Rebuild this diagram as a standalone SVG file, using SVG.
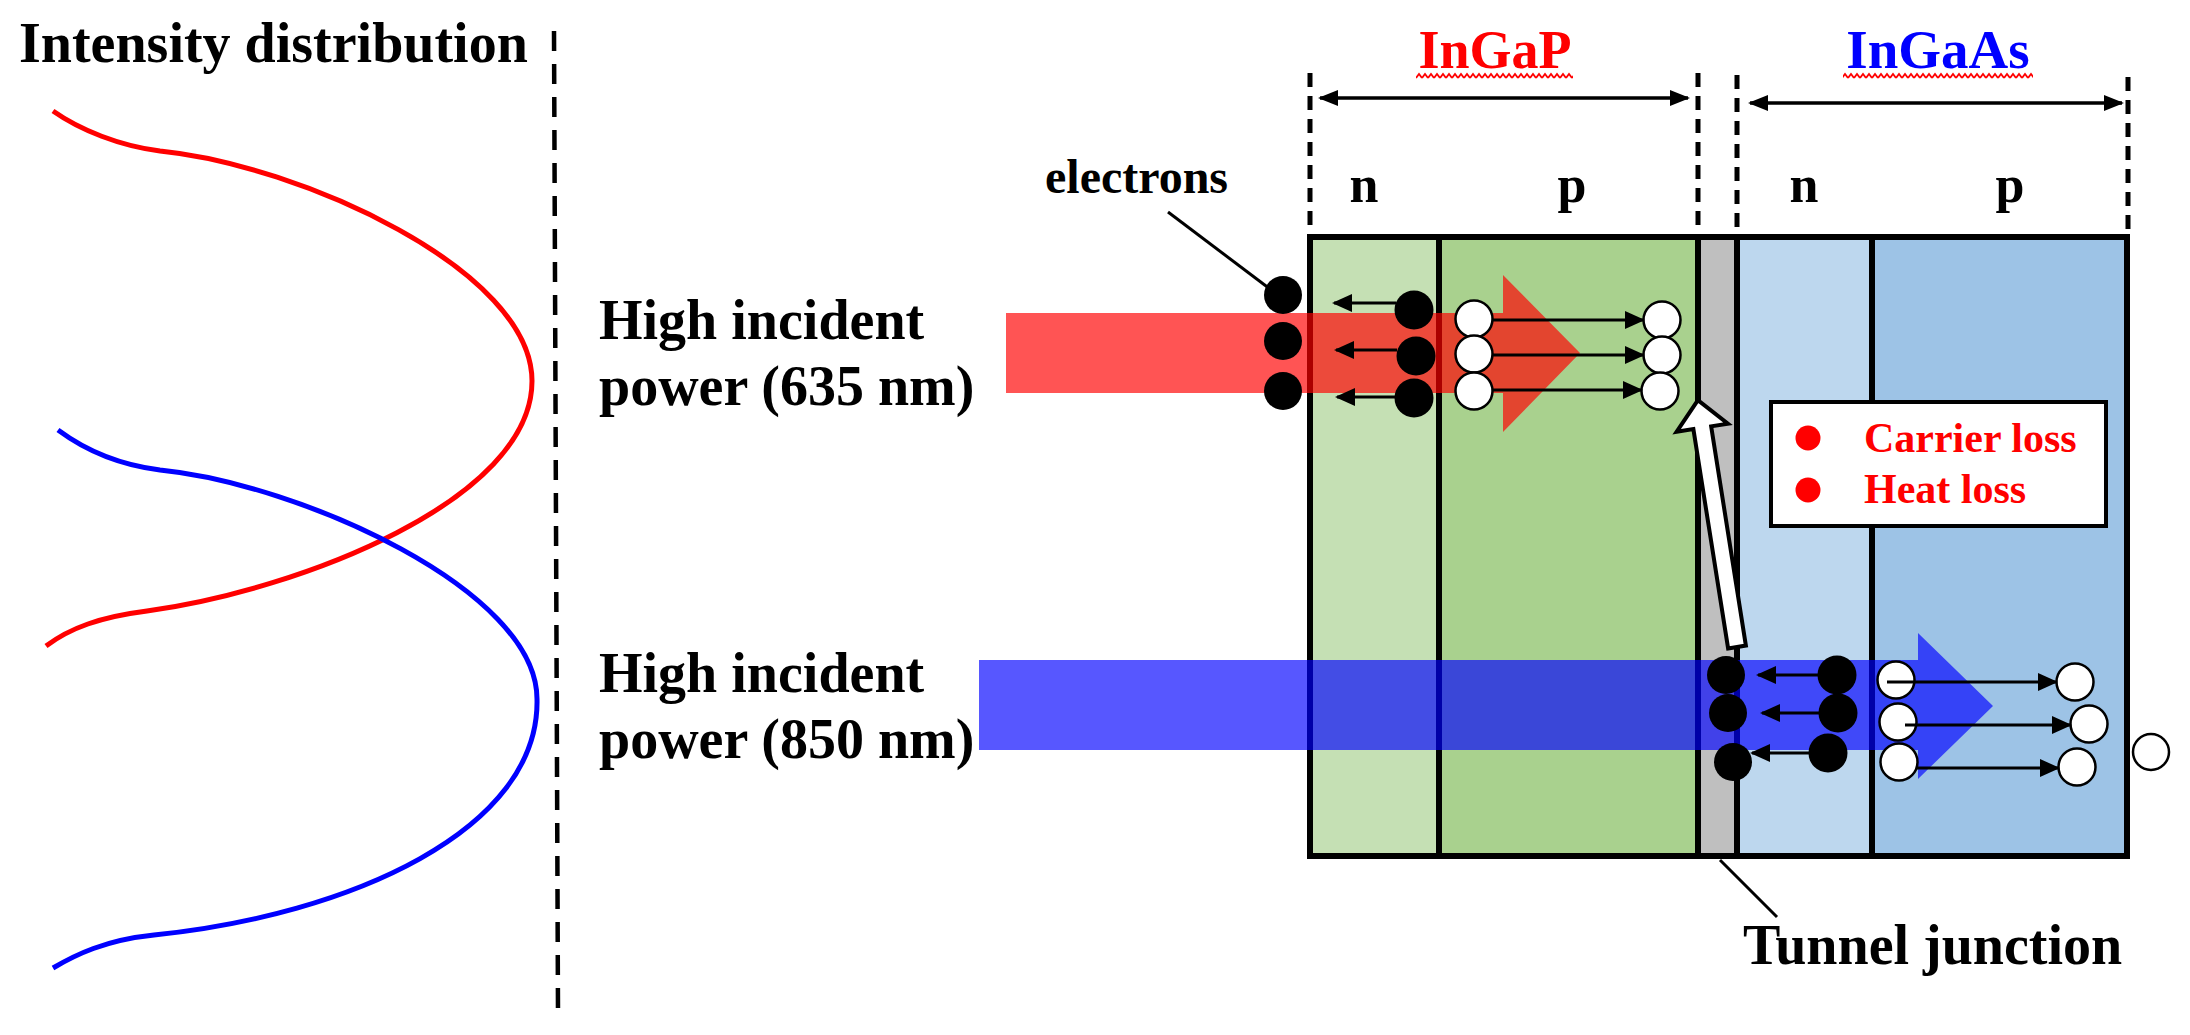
<svg xmlns="http://www.w3.org/2000/svg" width="2190" height="1035" viewBox="0 0 2190 1035">
<style>
.t{font-family:"Liberation Serif","Times New Roman",serif;font-weight:bold;fill:#000}
.red{fill:#FF0000}
.blue{fill:#0000FF}
.dash{stroke:#000;stroke-width:5;stroke-dasharray:14 9;fill:none}
.div{stroke:#000;stroke-width:6;fill:none}
.bk{fill:#000}
.wh{fill:#fff;stroke:#000;stroke-width:2.5}
.ar{stroke:#000;stroke-width:3;fill:none;marker-end:url(#ah)}
.lead{stroke:#000;stroke-width:3;fill:none}
</style>
<defs>
<marker id="ah" viewBox="0 0 20 18" refX="18" refY="9" markerWidth="20" markerHeight="18" markerUnits="userSpaceOnUse" orient="auto">
<path d="M0,0 L20,9 L0,18 z" fill="#000"/>
</marker>
<marker id="dh" viewBox="0 0 20 16" refX="18" refY="8" markerWidth="20" markerHeight="16" markerUnits="userSpaceOnUse" orient="auto-start-reverse">
<path d="M0,0 L20,8 L0,16 z" fill="#000"/>
</marker>
<pattern id="wavy" width="6" height="8" patternUnits="userSpaceOnUse">
<path d="M0,6 L3,2 L6,6" stroke="#FF0000" stroke-width="1.8" fill="none"/>
</pattern>
</defs>
<rect width="2190" height="1035" fill="#fff"/>

<g id="intensity">
<text class="t" x="19" y="62" font-size="56">Intensity distribution</text>
<path id="red-curve" d="M53,111 C80,130 120,146 160,151 C300,165 532,270 532,381 C532,500 300,590 147,611 C100,617 70,628 46,646" fill="none" stroke="#FF0000" stroke-width="5"/>
<path id="blue-curve" d="M58,430 C85,450 120,465 160,470 C300,484 537,590 537,699 C540,830 350,915 154,935 C105,940 75,955 53,968" fill="none" stroke="#0000FF" stroke-width="5"/>
<line x1="554" y1="31" x2="558" y2="1013" stroke="#000" stroke-width="4.5" stroke-dasharray="20 13"/>
</g>

<g id="labels">
<text class="t" x="599" y="339" font-size="56">High incident</text>
<text class="t" x="599" y="405" font-size="56">power (635 nm)</text>
<text class="t" x="599" y="692" font-size="56">High incident</text>
<text class="t" x="599" y="758" font-size="56">power (850 nm)</text>
</g>

<g id="headers">
<text class="t red" x="1495" y="68" font-size="54" text-anchor="middle">InGaP</text>
<rect x="1416" y="72" width="157" height="8" fill="url(#wavy)"/>
<text class="t blue" x="1938" y="68" font-size="55" text-anchor="middle">InGaAs</text>
<rect x="1843" y="72" width="190" height="8" fill="url(#wavy)"/>
<line class="dash" x1="1310" y1="73" x2="1310" y2="237"/>
<line class="dash" x1="1698" y1="73" x2="1698" y2="237"/>
<line class="dash" x1="1737" y1="75" x2="1737" y2="237"/>
<line class="dash" x1="2128" y1="77" x2="2128" y2="237"/>
<line x1="1320" y1="98" x2="1688" y2="98" stroke="#000" stroke-width="3.5" marker-start="url(#dh)" marker-end="url(#dh)"/>
<line x1="1750" y1="103" x2="2122" y2="103" stroke="#000" stroke-width="3.5" marker-start="url(#dh)" marker-end="url(#dh)"/>
<text class="t" x="1364" y="202" font-size="52" text-anchor="middle">n</text>
<text class="t" x="1572" y="202" font-size="52" text-anchor="middle">p</text>
<text class="t" x="1804" y="202" font-size="52" text-anchor="middle">n</text>
<text class="t" x="2010" y="202" font-size="52" text-anchor="middle">p</text>
</g>

<g id="cell">
<rect id="ingap-n" x="1310" y="237" width="129" height="619" fill="#C5E0B4"/>
<rect id="ingap-p" x="1439" y="237" width="259" height="619" fill="#A9D18E"/>
<rect id="tunnel" x="1698" y="237" width="39" height="619" fill="#BFBFBF"/>
<rect id="ingaas-n" x="1737" y="237" width="135" height="619" fill="#BDD7EE"/>
<rect id="ingaas-p" x="1872" y="237" width="255" height="619" fill="#9DC3E6"/>
<line class="div" x1="1439" y1="237" x2="1439" y2="856"/>
<line class="div" x1="1698" y1="237" x2="1698" y2="856"/>
<line class="div" x1="1737" y1="237" x2="1737" y2="856"/>
<line class="div" x1="1872" y1="237" x2="1872" y2="856"/>
<rect x="1310" y="237" width="817" height="619" fill="none" stroke="#000" stroke-width="6"/>
</g>

<g id="beams">
<path id="red-beam" d="M1006,313 H1503 V275 L1580,353 L1503,432 V393 H1006 Z" fill="#FF0000" fill-opacity="0.67"/>
<path id="blue-beam" d="M979,660 H1918 V633 L1993,706 L1918,779 V750 H979 Z" fill="#0000FF" fill-opacity="0.66"/>
</g>

<g id="carriers-ingap">
<circle class="bk" cx="1283" cy="295" r="19"/>
<circle class="bk" cx="1283" cy="341" r="19"/>
<circle class="bk" cx="1283" cy="391" r="19"/>
<circle class="bk" cx="1414" cy="310" r="19.5"/>
<circle class="bk" cx="1416" cy="356" r="19.5"/>
<circle class="bk" cx="1414" cy="398" r="19.5"/>
<circle class="wh" cx="1474" cy="319" r="18.5"/>
<circle class="wh" cx="1474" cy="354" r="18.5"/>
<circle class="wh" cx="1474" cy="391" r="18.5"/>
<circle class="wh" cx="1662" cy="320" r="18.5"/>
<circle class="wh" cx="1662" cy="355" r="18.5"/>
<circle class="wh" cx="1660" cy="391" r="18.5"/>
</g>

<g id="carriers-ingaas">
<circle class="bk" cx="1726" cy="675" r="19"/>
<circle class="bk" cx="1728" cy="713" r="19"/>
<circle class="bk" cx="1733" cy="762" r="19"/>
<circle class="bk" cx="1837" cy="675" r="19.5"/>
<circle class="bk" cx="1838" cy="713" r="19.5"/>
<circle class="bk" cx="1828" cy="753" r="19.5"/>
<circle class="wh" cx="1896" cy="680" r="18.5"/>
<circle class="wh" cx="1898" cy="722" r="18.5"/>
<circle class="wh" cx="1899" cy="762" r="18.5"/>
<circle class="wh" cx="2075" cy="682" r="18.5"/>
<circle class="wh" cx="2089" cy="724" r="18.5"/>
<circle class="wh" cx="2077" cy="767" r="18.5"/>
<circle class="wh" cx="2151" cy="752" r="18"/>
</g>

<g id="connectors">
<line class="ar" x1="1396" y1="303" x2="1334" y2="303"/>
<line class="ar" x1="1397" y1="350" x2="1336" y2="350"/>
<line class="ar" x1="1396" y1="397" x2="1337" y2="397"/>
<line class="ar" x1="1492" y1="320" x2="1643" y2="320"/>
<line class="ar" x1="1492" y1="355" x2="1643" y2="355"/>
<line class="ar" x1="1492" y1="390" x2="1641" y2="390"/>
<line class="ar" x1="1818" y1="675" x2="1758" y2="675"/>
<line class="ar" x1="1819" y1="713" x2="1762" y2="713"/>
<line class="ar" x1="1809" y1="753" x2="1752" y2="753"/>
<line class="ar" x1="1887" y1="682" x2="2056" y2="682"/>
<line class="ar" x1="1905" y1="725" x2="2070" y2="725"/>
<line class="ar" x1="1917" y1="768" x2="2058" y2="768"/>
<line class="lead" x1="1168" y1="212" x2="1270" y2="289"/>
<line class="lead" x1="1720" y1="860" x2="1777" y2="917"/>
<g id="tunnel-arrow" transform="translate(1737,647) rotate(-9)">
<polygon points="-9,0 9,0 9,-222 26,-222 0,-250 -26,-222 -9,-222" fill="#fff" stroke="#000" stroke-width="4"/>
</g>
</g>

<g id="electrons-label">
<text class="t" x="1045" y="193" font-size="48">electrons</text>
</g>

<g id="tunnel-label">
<text class="t" x="1743" y="964" font-size="56">Tunnel junction</text>
</g>

<g id="legend">
<rect x="1771" y="402" width="335" height="124" fill="#fff" stroke="#000" stroke-width="4"/>
<circle cx="1808" cy="438" r="12.5" fill="#FF0000"/>
<circle cx="1808" cy="490" r="12.5" fill="#FF0000"/>
<text class="t red" x="1864" y="452" font-size="42">Carrier loss</text>
<text class="t red" x="1864" y="503" font-size="42">Heat loss</text>
</g>
</svg>
